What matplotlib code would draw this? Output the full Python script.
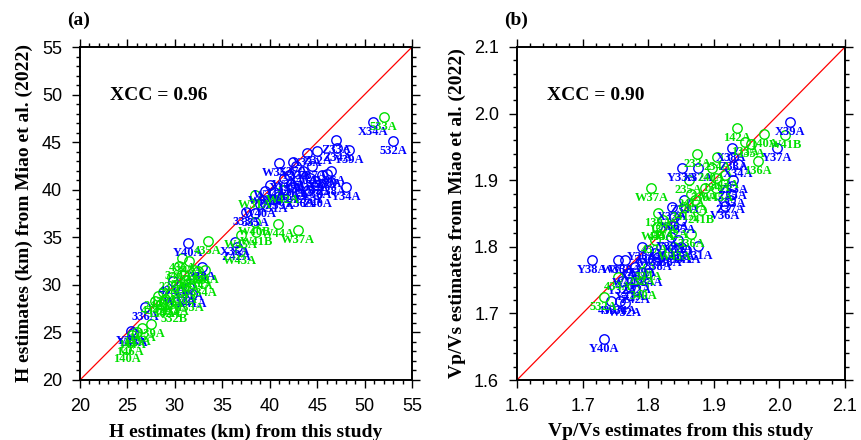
import numpy as np
import matplotlib.pyplot as plt
from matplotlib.ticker import MultipleLocator

SERIF = ['Liberation Serif', 'DejaVu Serif']
SANS = ['Liberation Sans', 'DejaVu Sans']
BLUE = '#0000ff'
GREEN = '#00e000'

# (a) Moho depth H: this study vs Miao et al. (2022)
h_blue_names = ['X34A', '532A', 'Z33A', 'Z34A', 'Y39A', 'Z32A', 'X33A', 'X37A',
                'W35A', 'X38A', 'Y34A', 'Y40A', '333A', 'X35A', 'Z42A', '336A',
                'Y32A', 'W36A', 'X36A', 'Y35A', 'Y36A', 'Z35A', 'X39A', 'Y37A',
                'W38A', 'Z36A', 'Y38A', 'Z37A', 'X40A', 'W34A', 'Z38A', 'Y33A',
                'X32A', '335A', 'W40A', 'Z39A', 'V36A', 'Z40A', 'X31A', '433A',
                'W32A', 'Y41A', '338A', 'X41A', 'Y43A', 'W39A', 'V37A', 'Z41A']
h_blue_x = [50.9, 53.0, 47.0, 47.1, 48.4, 45.0, 43.9, 42.5,
            41.0, 46.0, 48.0, 31.4, 37.5, 36.3, 36.5, 26.9,
            25.4, 42.0, 43.0, 44.2, 45.0, 44.0, 42.5, 41.5,
            40.5, 43.2, 45.5, 44.5, 43.5, 40.0, 46.5, 42.8,
            41.5, 38.5, 39.0, 41.0, 46.5, 45.0, 40.3, 29.8,
            30.5, 31.5, 32.9, 31.8, 25.6, 39.5, 44.8, 42.2]
h_blue_y = [47.1, 45.1, 45.2, 44.4, 44.2, 44.1, 43.9, 42.9,
            42.8, 41.7, 40.3, 34.4, 37.7, 34.5, 34.0, 27.7,
            25.1, 41.5, 41.0, 41.2, 40.5, 40.0, 40.3, 40.0,
            39.8, 39.5, 41.5, 42.5, 42.0, 40.5, 40.8, 42.5,
            41.2, 37.6, 38.5, 39.3, 42.0, 39.6, 39.0, 30.4,
            29.2, 29.8, 31.9, 29.0, 24.9, 39.9, 40.9, 40.6]

h_green_names = ['533A', 'W31A', 'W42A', '435A', 'W37A', 'W44A', 'W41B', 'W43A',
                 '140A', '139A', '340A', '334A', '133A', '241A', '135A', '134A',
                 '136A', '137A', '138A', '142A', '234A', '235A', '236A', '237A',
                 '240A', '242A', '341A', '342A', '343A', '436A', '437A', '532B',
                 '144A', '143A', '145A', '146A', 'W45A', 'W40B', '434A']
h_green_x = [52.0, 38.4, 41.4, 33.5, 43.0, 40.9, 38.6, 36.9,
             24.9, 27.45, 30.4, 33.0, 31.6, 29.0, 29.5, 30.0,
             28.5, 28.8, 30.8, 29.2, 31.2, 30.1, 32.4, 29.7,
             31.0, 28.2, 32.0, 33.2, 31.5, 30.8, 27.9, 29.9,
             25.5, 26.0, 26.5, 25.3, 37.0, 38.4, 32.6]
h_green_y = [47.6, 39.4, 40.0, 34.6, 35.8, 36.4, 35.6, 33.6,
             23.3, 25.85, 32.0, 30.2, 28.6, 28.5, 29.0, 28.2,
             28.0, 29.2, 29.5, 28.0, 30.5, 30.0, 31.5, 30.8,
             31.0, 28.8, 31.6, 31.6, 32.5, 32.8, 28.3, 27.5,
             24.7, 25.0, 25.5, 24.0, 35.2, 36.6, 30.9]

# (b) Vp/Vs ratio: this study vs Miao et al. (2022)
k_blue_names = ['X39A', 'Y37A', 'X38A', 'Z38A', 'X34A', 'Y33A', 'X37A', 'X35A',
                'V36A', 'X32A', 'Z34A', 'X31A', 'Y38A', 'W36A', 'W38A', 'Y40A',
                '433A', 'W34A', 'W32A', 'Z37A', 'Z35A', 'X36A', 'Y35A', 'Y36A',
                'Z36A', 'W35A', 'X40A', 'Z39A', 'Y34A', 'Z32A', 'W40A', '338A',
                '333A', '335A', 'X33A', 'Y39A', 'Z40A', 'X41A', 'Y41A', 'Z42A',
                'Y32A', 'W39A', 'Z33A']
k_blue_x = [2.016, 1.997, 1.927, 1.930, 1.937, 1.852, 1.876, 1.926,
            1.917, 1.836, 1.855, 1.876, 1.714, 1.754, 1.765, 1.733,
            1.744, 1.757, 1.765, 1.925, 1.928, 1.840, 1.850, 1.790,
            1.800, 1.810, 1.780, 1.790, 1.800, 1.782, 1.770, 1.815,
            1.830, 1.850, 1.845, 1.835, 1.820, 1.858, 1.772, 1.780,
            1.760, 1.842, 1.930]
k_blue_y = [1.988, 1.948, 1.949, 1.935, 1.925, 1.919, 1.919, 1.880,
            1.861, 1.860, 1.870, 1.801, 1.780, 1.780, 1.780, 1.661,
            1.719, 1.719, 1.716, 1.870, 1.892, 1.845, 1.840, 1.800,
            1.795, 1.790, 1.770, 1.775, 1.760, 1.750, 1.760, 1.785,
            1.790, 1.800, 1.810, 1.815, 1.800, 1.795, 1.740, 1.735,
            1.748, 1.795, 1.900]

k_green_names = ['142A', '140A', 'W41B', '136A', '133A', '135A', '233A', '240A',
                 'W37A', '336A', '236A', 'W45A', '241A', 'W44A', '340A', '434A',
                 '532A', 'W42A', '242A', 'W43A', '334A', '232A', '139A', '137A',
                 '134A', '143A', '435A', '234A', '235A', '341A', '437A', '241B']
k_green_x = [1.936, 1.977, 2.009, 1.967, 1.948, 1.957, 1.875, 1.897,
             1.805, 1.866, 1.886, 1.904, 1.866, 1.814, 1.792, 1.754,
             1.732, 1.836, 1.871, 1.840, 1.800, 1.790, 1.815, 1.823,
             1.903, 1.917, 1.820, 1.905, 1.862, 1.855, 1.810, 1.880]
k_green_y = [1.978, 1.969, 1.968, 1.929, 1.958, 1.955, 1.939, 1.918,
             1.889, 1.819, 1.889, 1.889, 1.879, 1.829, 1.741, 1.755,
             1.724, 1.833, 1.870, 1.800, 1.770, 1.762, 1.850, 1.840,
             1.903, 1.908, 1.830, 1.935, 1.900, 1.860, 1.810, 1.855]


def draw_group(ax, names, xs, ys, color):
    ax.plot(xs, ys, 'o', ms=6.8, mfc='none', mec=color, mew=1.0, zorder=3)
    for n, x, y in zip(names, xs, ys):
        ax.annotate(n, (x, y), xytext=(0, -10), textcoords='offset pixels',
                    ha='center', va='center', color=color, fontsize=9,
                    fontweight='bold', family=SERIF, zorder=4)


def style_axes(ax, lo, hi, major, minor, fmt):
    ax.set_xlim(lo, hi)
    ax.set_ylim(lo, hi)
    ax.plot([lo, hi], [lo, hi], color='#ff0000', lw=0.9, zorder=2)
    for a in (ax.xaxis, ax.yaxis):
        a.set_major_locator(MultipleLocator(major))
        a.set_minor_locator(MultipleLocator(minor))
        a.set_major_formatter(fmt)
    ax.tick_params(which='both', direction='out', top=True, right=True,
                   width=1.0, labelsize=13, pad=7)
    ax.tick_params(which='major', length=6)
    ax.tick_params(which='minor', length=3)
    for lab in ax.get_xticklabels() + ax.get_yticklabels():
        lab.set_family(SANS)
    for s in ax.spines.values():
        s.set_linewidth(1.4)


fig = plt.figure(figsize=(8.62, 4.4), dpi=100)
ax1 = fig.add_axes([80 / 862, 60 / 440, 332 / 862, 333 / 440])
ax2 = fig.add_axes([517 / 862, 60 / 440, 328 / 862, 333 / 440])

draw_group(ax1, h_blue_names, h_blue_x, h_blue_y, BLUE)
draw_group(ax1, h_green_names, h_green_x, h_green_y, GREEN)
style_axes(ax1, 20, 55, 5, 1, '{x:.0f}')
ax1.set_xlabel('H estimates (km) from this study', family=SERIF,
               fontweight='bold', fontsize=14, labelpad=6)
ax1.set_ylabel('H estimates (km) from Miao et al. (2022)', family=SERIF,
               fontweight='bold', fontsize=14, labelpad=6)
ax1.text(0.09, 0.84, 'XCC = 0.96', transform=ax1.transAxes, family=SERIF,
         fontweight='bold', fontsize=14)
ax1.text(-0.04, 1.065, '(a)', transform=ax1.transAxes, family=SERIF,
         fontweight='bold', fontsize=14)

draw_group(ax2, k_blue_names, k_blue_x, k_blue_y, BLUE)
draw_group(ax2, k_green_names, k_green_x, k_green_y, GREEN)
style_axes(ax2, 1.6, 2.1, 0.1, 0.02, '{x:.1f}')
ax2.set_xlabel('Vp/Vs estimates from this study', family=SERIF,
               fontweight='bold', fontsize=14, labelpad=6)
ax2.set_ylabel('Vp/Vs estimates from Miao et al. (2022)', family=SERIF,
               fontweight='bold', fontsize=14, labelpad=6)
ax2.text(0.09, 0.84, 'XCC = 0.90', transform=ax2.transAxes, family=SERIF,
         fontweight='bold', fontsize=14)
ax2.text(-0.04, 1.065, '(b)', transform=ax2.transAxes, family=SERIF,
         fontweight='bold', fontsize=14)

fig.savefig('out.png', dpi=100)
